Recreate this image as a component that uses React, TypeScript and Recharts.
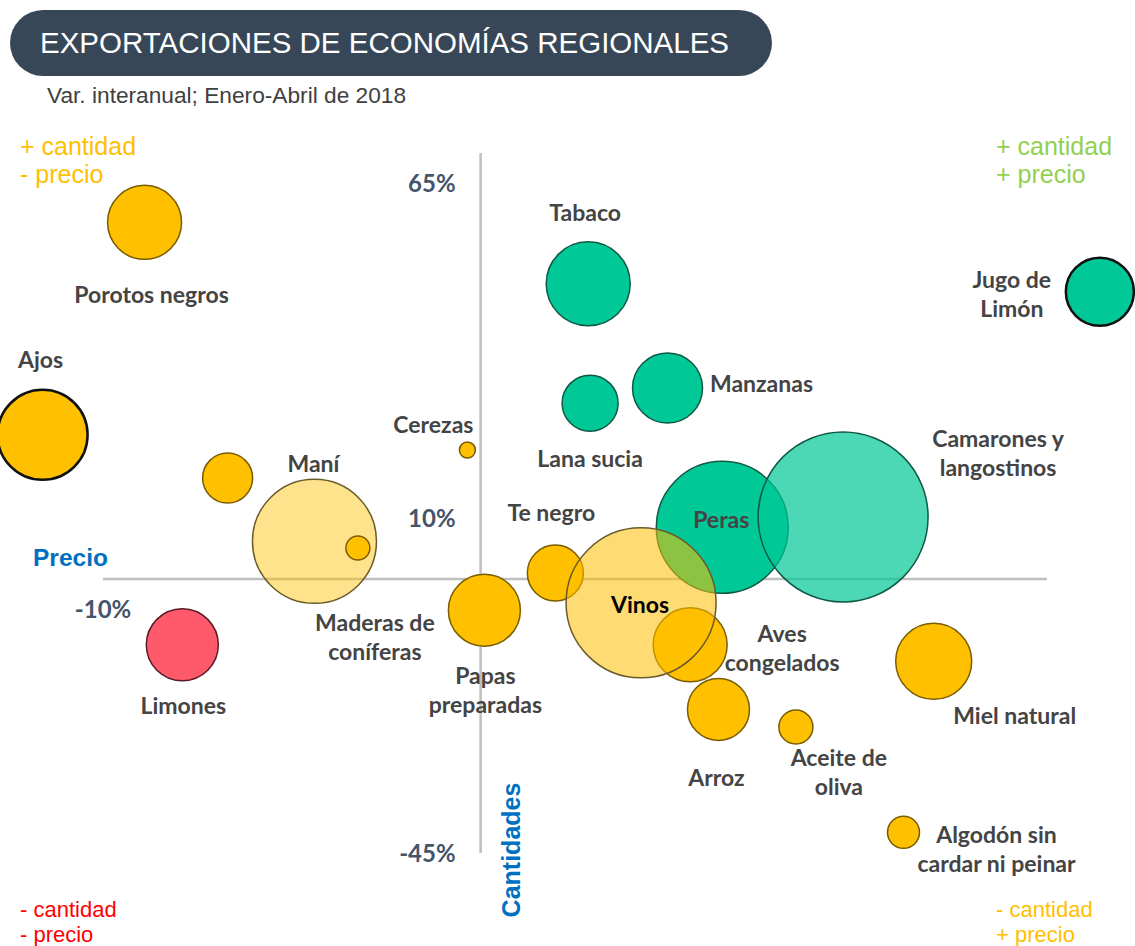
import {
  ReferenceDot,
  ReferenceLine,
  Scatter,
  ScatterChart,
  XAxis,
  YAxis,
  ZAxis,
} from 'recharts'

// Var. interanual Enero-Abril 2018: precio (eje X) y cantidades (eje Y), en %
const productos = [
  'Porotos negros',
  'Ajos',
  '',
  'Maní',
  'Maderas de\nconíferas',
  'Limones',
  'Cerezas',
  'Papas\npreparadas',
  'Te negro',
  'Tabaco',
  'Lana sucia',
  'Manzanas',
  'Jugo de\nLimón',
  'Peras',
  'Camarones y\nlangostinos',
  'Aves\ncongelados',
  'Vinos',
  'Arroz',
  'Aceite de\noliva',
  'Miel natural',
  'Algodón sin\ncardar ni peinar',
]
const precio = [-8.9, -11.6, -6.7, -4.4, -3.25, -7.9, -0.35, 0.1, 1.98, 2.85, 2.9, 4.95, 16.4, 6.4, 9.6, 5.55, 4.25, 6.3, 8.35, 12.0, 11.2]
const cantidad = [58.6, 23.7, 16.6, 6.2, 5.1, -10.8, 21.2, -5.1, 1.0, 48.5, 28.9, 31.4, 47.2, 8.5, 10.2, -10.8, -3.9, -21.4, -24.3, -13.5, -41.6]
// tamaño relativo de la burbuja (proporcional al área)
const volumen = [1369, 2025, 625, 3844, 144, 1296, 64, 1296, 784, 1764, 784, 1225, 1156, 4356, 7225, 1369, 5625, 961, 289, 1444, 256]

const ticksCantidad = [65, 10, -45]
const ticksPrecio = [-10]

const data = productos.map((name, i) => ({
  name,
  precio: precio[i],
  cantidad: cantidad[i],
  volumen: volumen[i],
}))

const ORANGE = { fill: '#FFC000', stroke: '#7A5C00', opacity: 1, sw: 1.5 }
const PALE = { fill: '#FFC000', stroke: '#6B5A2A', opacity: 0.45, sw: 1.5 }
const GREEN = { fill: '#00C896', stroke: '#0E5A44', opacity: 1, sw: 1.5 }

const estilos: Record<string, { fill: string; stroke: string; opacity: number; sw: number }> = {
  Ajos: { ...ORANGE, stroke: '#111', sw: 2.5 },
  'Maní': PALE,
  Vinos: { ...PALE, opacity: 0.55 },
  Limones: { fill: '#FF5A6B', stroke: '#5A1A26', opacity: 1, sw: 1.5 },
  Tabaco: GREEN,
  'Lana sucia': GREEN,
  Manzanas: GREEN,
  'Jugo de\nLimón': { ...GREEN, stroke: '#111', sw: 2.5 },
  Peras: GREEN,
  'Camarones y\nlangostinos': { ...GREEN, opacity: 0.7 },
}

// desplazamiento de cada etiqueta respecto al centro de la burbuja (px)
const etiquetas: Record<string, [number, number]> = {
  'Porotos negros': [7, 72],
  Ajos: [-2, -76],
  'Maní': [-1, -78],
  'Maderas de\nconíferas': [17, 74],
  Limones: [1, 60],
  Cerezas: [-34, -26],
  'Papas\npreparadas': [1, 65],
  'Te negro': [-4, -61],
  Tabaco: [-3, -72],
  'Lana sucia': [0, 55],
  Manzanas: [94, -5],
  'Jugo de\nLimón': [-88, -13],
  Peras: [-1, -8],
  'Camarones y\nlangostinos': [155, -79],
  'Aves\ncongelados': [92, -12],
  Vinos: [-1, 1],
  Arroz: [-2, 68],
  'Aceite de\noliva': [43, 30],
  'Miel natural': [81, 54],
  'Algodón sin\ncardar ni peinar': [93, 2],
}

function Burbuja(props: any) {
  const { cx, cy, size, payload } = props
  const st = estilos[payload.name] ?? ORANGE
  const r = Math.sqrt(size / Math.PI)
  return (
    <circle
      cx={cx}
      cy={cy}
      r={r}
      fill={st.fill}
      fillOpacity={st.opacity}
      stroke={st.stroke}
      strokeWidth={st.sw}
    />
  )
}

function Etiqueta(props: any) {
  const { cx, cy, payload } = props
  const off = etiquetas[payload.name]
  if (!off || !payload.name) return <g />
  const lines = String(payload.name).split('\n')
  return (
    <text
      x={cx + off[0]}
      y={cy + off[1]}
      textAnchor="middle"
      dominantBaseline="central"
      fontFamily="Lato, sans-serif"
      fontWeight={700}
      fontSize={23}
      fill={payload.name === 'Vinos' ? '#000' : '#444'}
    >
      {lines.map((l, i) => (
        <tspan key={i} x={cx + off[0]} dy={i === 0 ? 0 : 29}>
          {l}
        </tspan>
      ))}
    </text>
  )
}

const tickStyle = {
  fontFamily: 'Lato, sans-serif',
  fontWeight: 700,
  fontSize: 24,
  fill: '#44546A',
}

export default function App() {
  return (
    <div
      style={{
        position: 'absolute',
        left: 0,
        top: 0,
        width: 1135,
        height: 946,
        background: '#fff',
        fontFamily: '"Liberation Sans", Arial, sans-serif',
        overflow: 'hidden',
      }}
    >
      <div
        style={{
          position: 'absolute',
          left: 10,
          top: 10,
          width: 762,
          height: 66,
          borderRadius: 33,
          background: '#384757',
          color: '#fff',
          fontSize: 29.5,
          lineHeight: '66px',
          paddingLeft: 30,
          boxSizing: 'border-box',
          whiteSpace: 'nowrap',
        }}
      >
        EXPORTACIONES DE ECONOMÍAS REGIONALES
      </div>
      <div style={{ position: 'absolute', left: 47, top: 82, fontSize: 22.7, color: '#404040' }}>
        Var. interanual; Enero-Abril de 2018
      </div>

      <div style={{ position: 'absolute', left: 20, top: 132, fontSize: 25, lineHeight: '28px', color: '#FFC000' }}>
        + cantidad
        <br />- precio
      </div>
      <div style={{ position: 'absolute', left: 996, top: 132, fontSize: 25, lineHeight: '28px', color: '#92D050' }}>
        + cantidad
        <br />+ precio
      </div>
      <div style={{ position: 'absolute', left: 20, top: 897, fontSize: 22, lineHeight: '25px', color: '#FF0000' }}>
        - cantidad
        <br />- precio
      </div>
      <div style={{ position: 'absolute', left: 996, top: 897, fontSize: 22, lineHeight: '25px', color: '#FFC000' }}>
        - cantidad
        <br />+ precio
      </div>

      <div
        style={{
          position: 'absolute',
          left: 33,
          top: 544,
          fontSize: 24.5,
          fontWeight: 700,
          color: '#0070C0',
        }}
      >
        Precio
      </div>
      <div
        style={{
          position: 'absolute',
          left: 511,
          top: 850,
          fontSize: 25,
          fontWeight: 700,
          color: '#0070C0',
          transform: 'translate(-50%, -50%) rotate(-90deg)',
          whiteSpace: 'nowrap',
        }}
      >
        Cantidades
      </div>

      <div style={{ position: 'absolute', left: 0, top: 0 }}>
        <ScatterChart
          width={1135}
          height={946}
          margin={{ top: 122.5, right: 12.5, bottom: 62.5, left: 27.5 }}
        >
          <XAxis type="number" dataKey="precio" domain={[-12, 17]} hide />
          <YAxis type="number" dataKey="cantidad" domain={[-50, 75]} hide />
          <ZAxis type="number" dataKey="volumen" domain={[0, 7225]} range={[0, Math.PI * 7225]} />
          <ReferenceLine
            segment={[
              { x: -10, y: 0 },
              { x: 15, y: 0 },
            ]}
            stroke="#BFBFBF"
            strokeWidth={2.5}
          />
          <ReferenceLine
            segment={[
              { x: 0, y: -45 },
              { x: 0, y: 70 },
            ]}
            stroke="#BFBFBF"
            strokeWidth={2.5}
          />
          {ticksCantidad.map((t) => (
            <ReferenceDot
              key={t}
              x={0}
              y={t}
              r={0}
              fill="none"
              stroke="none"
              label={{ value: `${t}%`, position: 'left', offset: 25, style: tickStyle }}
            />
          ))}
          {ticksPrecio.map((t) => (
            <ReferenceDot
              key={t}
              x={t}
              y={0}
              r={0}
              fill="none"
              stroke="none"
              label={{ value: `${t}%`, position: 'bottom', offset: 22, style: tickStyle }}
            />
          ))}
          <Scatter data={data} shape={<Burbuja />} isAnimationActive={false} />
          <Scatter data={data} shape={<Etiqueta />} isAnimationActive={false} />
        </ScatterChart>
      </div>
    </div>
  )
}
